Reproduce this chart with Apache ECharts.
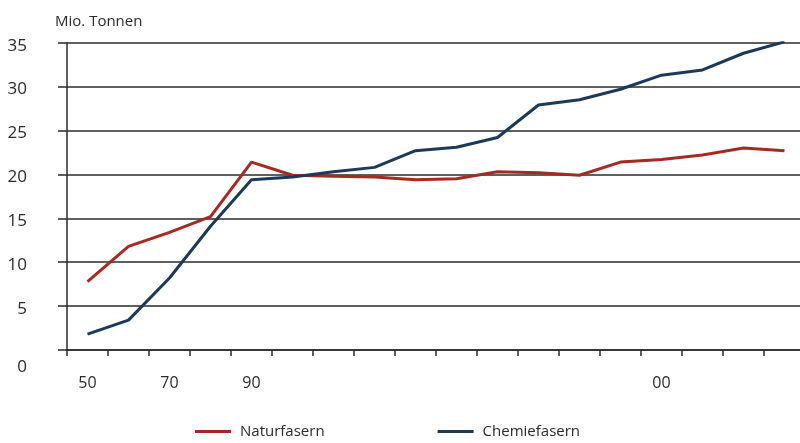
<!DOCTYPE html>
<html>
<head>
<meta charset="utf-8">
<script src="https://cdn.jsdelivr.net/npm/echarts@6/dist/echarts.min.js"></script>
<style>html,body{margin:0;padding:0;background:#fff;overflow:hidden}#c{width:806px;height:443px}</style>
</head>
<body>
<div id="c"></div>
<script>
const categories = ["50","","70","","90","","","","","","","","","","00","","",""];
const naturfasern = [7.8, 11.8, 13.4, 15.2, 21.4, 19.9, 19.8, 19.7, 19.4, 19.5, 20.3, 20.2, 19.9, 21.4, 21.7, 22.2, 23.0, 22.7];
const chemiefasern = [1.8, 3.4, 8.2, 14.1, 19.4, 19.7, 20.3, 20.8, 22.7, 23.1, 24.2, 27.9, 28.5, 29.7, 31.3, 31.9, 33.8, 35.1];
const yTicks = [0, 5, 10, 15, 20, 25, 30, 35];

const FONT = '"Open Sans", "Noto Sans", sans-serif';
const chart = echarts.init(document.getElementById('c'), null, {renderer: 'canvas'});
chart.setOption({
  animation: false,
  backgroundColor: '#fff',
  title: {
    text: 'Mio. Tonnen', left: 50, top: 9,
    textStyle: {fontFamily: FONT, fontSize: 15, fontWeight: 'normal', color: '#2a2a2a'}
  },
  legend: {
    left: 195, top: 424, padding: 0, itemWidth: 36, itemHeight: 3, itemGap: 113, icon: 'rect',
    textStyle: {fontFamily: FONT, fontSize: 15, color: '#2a2a2a', padding: [0, 0, 0, 4]},
    data: ['Naturfasern', 'Chemiefasern']
  },
  grid: {left: 67, top: 42.7, width: 738, bottom: 93, containLabel: false},
  xAxis: {
    type: 'category', data: categories, boundaryGap: true,
    axisLine: {lineStyle: {color: '#2a2a2a', width: 1.5}},
    axisTick: {show: true, interval: 0, length: 6, lineStyle: {color: '#2a2a2a', width: 1.5}},
    axisLabel: {interval: 0, margin: 25, fontFamily: FONT, fontSize: 16, color: '#2a2a2a'}
  },
  yAxis: {
    type: 'value', min: yTicks[0], max: yTicks[yTicks.length - 1], interval: 5,
    axisLine: {show: true, lineStyle: {color: '#2a2a2a', width: 1.5}},
    axisTick: {show: true, length: 9, lineStyle: {color: '#2a2a2a', width: 1.5}},
    splitLine: {lineStyle: {color: '#2a2a2a', width: 1.5}},
    axisLabel: {
      margin: 40, fontFamily: FONT, fontSize: 17, color: '#2a2a2a',
      formatter: v => v === 0 ? '{z|0}' : '{a|' + v + '}',
      rich: {
        a: {fontFamily: FONT, fontSize: 17, color: '#2a2a2a', padding: [6, 0, 0, 0]},
        z: {fontFamily: FONT, fontSize: 17, color: '#2a2a2a', padding: [34, 0, 0, 0]}
      }
    }
  },
  series: [
    {name: 'Naturfasern', type: 'line', data: naturfasern, symbol: 'none',
     lineStyle: {color: '#a52a22', width: 3}, itemStyle: {color: '#a52a22'}, z: 3},
    {name: 'Chemiefasern', type: 'line', data: chemiefasern, symbol: 'none',
     lineStyle: {color: '#1c3a58', width: 3}, itemStyle: {color: '#1c3a58'}, z: 4}
  ]
});
</script>
</body>
</html>
